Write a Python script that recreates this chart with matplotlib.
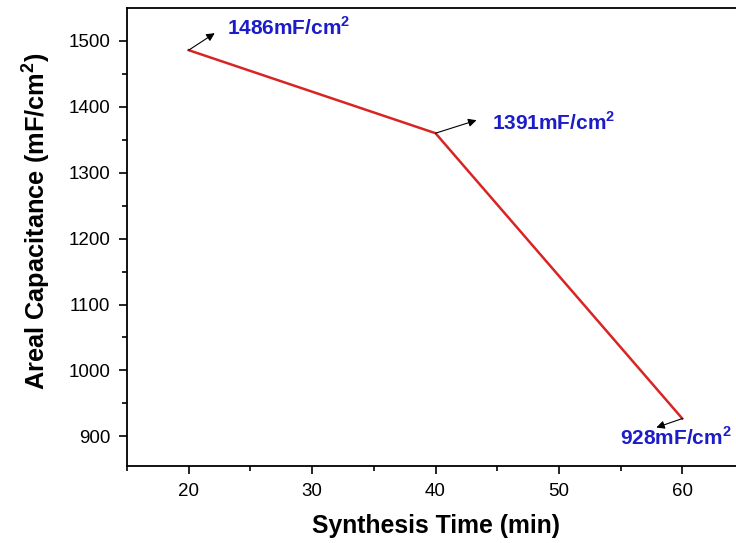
import matplotlib
matplotlib.use("Agg")
import matplotlib.pyplot as plt
from matplotlib.transforms import offset_copy

# Data
synthesis_time = [20, 40, 60]
areal_capacitance = [1486, 1360, 927]
point_labels = ["1486", "1391", "928"]
x_ticks = [20, 30, 40, 50, 60]
y_ticks = [900, 1000, 1100, 1200, 1300, 1400, 1500]

plt.rcParams['font.family'] = ['Liberation Sans', 'DejaVu Sans']
plt.rcParams['mathtext.fontset'] = 'custom'
plt.rcParams['mathtext.rm'] = 'Liberation Sans'
plt.rcParams['mathtext.bf'] = 'Liberation Sans:bold'

DPI = 100
fig = plt.figure(figsize=(7.36, 5.43), dpi=DPI)
ax = fig.add_axes([127/736, 77/543, 617/736, 458/543])

ax.plot(synthesis_time, areal_capacitance, color='#d92424', lw=1.8, zorder=3)

ax.set_xlim(15, 65)
ax.set_ylim(855, 1550)
ax.set_xticks(x_ticks)
ax.set_yticks(y_ticks)
ax.set_xticks([15, 25, 35, 45, 55, 65], minor=True)
ax.set_yticks([950, 1050, 1150, 1250, 1350, 1450], minor=True)
ax.tick_params(axis='both', which='major', direction='out', length=6, width=1.2,
               labelsize=13.5, pad=6)
ax.tick_params(axis='both', which='minor', direction='out', length=3.5, width=1.2)
for s in ax.spines.values():
    s.set_linewidth(1.3)

ax.set_xlabel('Synthesis Time (min)', fontsize=17.8, fontweight='bold', labelpad=10)
ax.set_ylabel(r'Areal Capacitance (mF/cm$^\mathbf{2}$)', fontsize=18.3,
              fontweight='bold')
ax.yaxis.set_label_coords(-0.12, 0.535)

# arrow head offsets and text offsets in pixels
arrow_off = [(26, 17), (41, 13), (-26, -9)]
text_off = [(38, 15), (56, 3), (-62, -26)]

for (x, y, lab, (adx, ady), (tdx, tdy)) in zip(synthesis_time, areal_capacitance,
                                                point_labels, arrow_off, text_off):
    head_tr = offset_copy(ax.transData, fig=fig, x=adx, y=ady, units='dots')
    ax.annotate('', xy=(x, y), xycoords=head_tr, xytext=(x, y), textcoords='data',
                arrowprops=dict(arrowstyle='-|>', color='black', lw=0.8,
                                mutation_scale=12, shrinkA=0, shrinkB=0),
                annotation_clip=False)
    txt_tr = offset_copy(ax.transData, fig=fig, x=tdx, y=tdy, units='dots')
    ax.text(x, y, lab + r'mF/cm$^\mathbf{2}$', transform=txt_tr, color='#1c1cc8',
            fontsize=15, fontweight='bold', ha='left', va='baseline', clip_on=False)

fig.savefig('out.png', dpi=DPI)
